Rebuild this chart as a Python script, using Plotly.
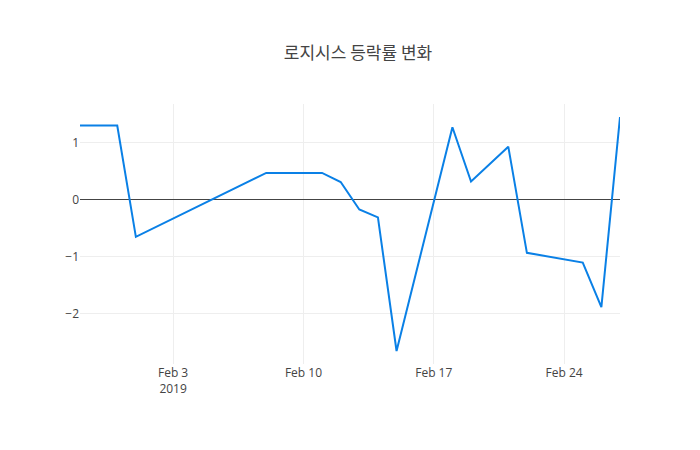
import plotly.graph_objects as go

dates = ["2019-01-29","2019-01-31","2019-02-01","2019-02-08","2019-02-11","2019-02-12",
         "2019-02-13","2019-02-14","2019-02-15","2019-02-18","2019-02-19","2019-02-21",
         "2019-02-22","2019-02-25","2019-02-26","2019-02-27"]
rates = [1.3,1.3,-0.65,0.47,0.47,0.31,-0.17,-0.31,-2.65,1.27,0.32,0.93,-0.93,-1.1,-1.88,1.45]

fig = go.Figure(go.Scatter(x=dates, y=rates, mode="lines",
                           line=dict(color="rgb(10,128,230)", width=2)))
fig.update_layout(
    width=700, height=450, template="none",
    paper_bgcolor="white", plot_bgcolor="white",
    title=dict(text="로지시스 등락률 변화", x=0.5, xanchor="center", y=0.9, yanchor="middle",
               font=dict(family="Noto Sans CJK KR", size=17, color="#444")),
    font=dict(family="Open Sans", size=12, color="#444"),
    margin=dict(l=72, r=88, t=96, b=94, autoexpand=False),
    xaxis=dict(showgrid=True, gridcolor="#eee", zeroline=False, ticks="",
               showline=False, dtick=7*86400000, tick0="2019-02-03", automargin=False),
    yaxis=dict(showgrid=True, gridcolor="#eee", zeroline=True, zerolinecolor="#444",
               zerolinewidth=1, ticks="", showline=False, dtick=1, automargin=False),
    showlegend=False,
)
fig.write_html("out.html")
